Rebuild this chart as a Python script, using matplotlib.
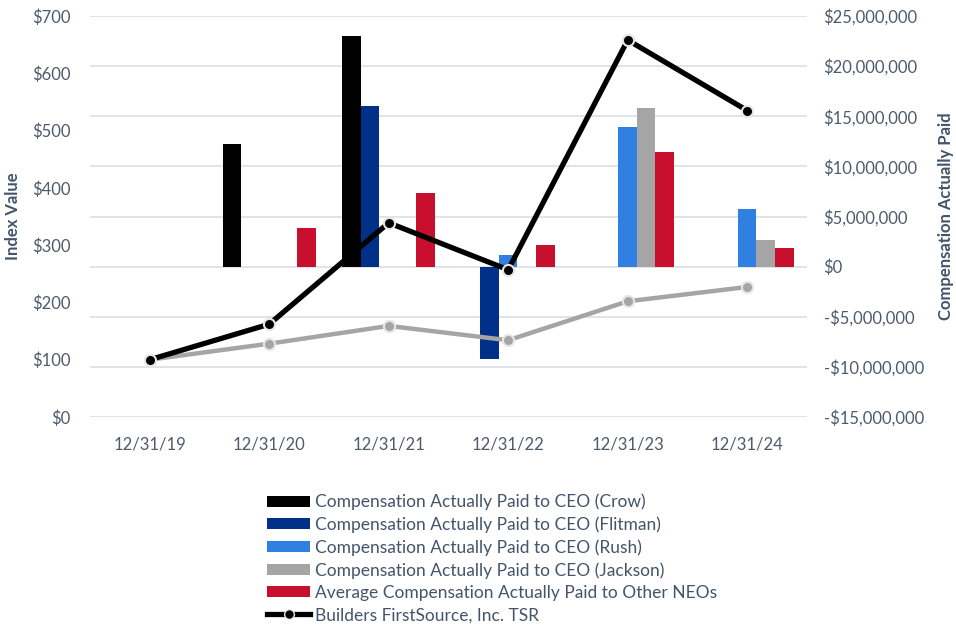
import numpy as np
import matplotlib.pyplot as plt
from matplotlib.lines import Line2D
from matplotlib.patches import Patch
from matplotlib.ticker import FuncFormatter

plt.rcParams['font.family'] = ['Lato', 'DejaVu Sans']

years = ['12/31/19', '12/31/20', '12/31/21', '12/31/22', '12/31/23', '12/31/24']

# index values (left axis)
tsr = [100, 162, 339, 257, 658, 535]
peer = [100, 128, 159, 134, 202, 227]

# compensation actually paid (right axis), NaN = no bar
cap_crow = [np.nan, 12.2e6, 23.0e6, np.nan, np.nan, np.nan]
cap_flitman = [np.nan, np.nan, 16.0e6, -9.2e6, np.nan, np.nan]
cap_rush = [np.nan, np.nan, np.nan, 1.17e6, 13.96e6, 5.75e6]
cap_jackson = [np.nan, np.nan, np.nan, np.nan, 15.8e6, 2.66e6]
cap_neos = [np.nan, 3.83e6, 7.35e6, 2.16e6, 11.4e6, 1.86e6]

bar_series = [
    ('Compensation Actually Paid to CEO (Crow)', cap_crow, '#000000'),
    ('Compensation Actually Paid to CEO (Flitman)', cap_flitman, '#003087'),
    ('Compensation Actually Paid to CEO (Rush)', cap_rush, '#2F80E0'),
    ('Compensation Actually Paid to CEO (Jackson)', cap_jackson, '#A5A5A5'),
    ('Average Compensation Actually Paid to Other NEOs', cap_neos, '#C8102E'),
]

text_col = '#44546A'
tick_col = '#4F5B6B'

fig = plt.figure(figsize=(9.56, 6.28), dpi=100)
ax2 = fig.add_axes([0.0941, 0.336, 0.750, 0.6385])   # bars, right axis
ax1 = ax2.twinx()                                    # lines, left axis
ax1.yaxis.tick_left()
ax1.yaxis.set_label_position('left')
ax2.yaxis.tick_right()
ax2.yaxis.set_label_position('right')
ax1.set_zorder(ax2.get_zorder() + 1)
ax1.patch.set_visible(False)

x = np.arange(len(years))
slot = 0.155
handles = []
for k, (name, vals, col) in enumerate(bar_series):
    ax2.bar(x + (k - 2) * slot, vals, width=slot, color=col, zorder=3)
    handles.append(Patch(facecolor=col, label=name))

ax2.set_ylim(-15e6, 25e6)
ax2.set_yticks(np.arange(-15e6, 25e6 + 1, 5e6))
ax2.yaxis.set_major_formatter(FuncFormatter(
    lambda v, p: ('-' if v < 0 else '') + '${:,.0f}'.format(abs(v))))
ax2.grid(axis='y', color='#DDE2E8', linewidth=1.3, zorder=0)
ax2.set_axisbelow(True)
ax2.set_xlim(-0.5, 5.5)
ax2.set_xticks(x)
ax2.set_xticklabels(years)

ax1.plot(x, peer, color='#A5A5A5', linewidth=3.2, marker='o', markersize=8,
         markerfacecolor='#A5A5A5', markeredgecolor='#E6E6E6', markeredgewidth=1.5,
         zorder=4)
ax1.plot(x, tsr, color='#000000', linewidth=3.8, marker='o', markersize=8,
         markerfacecolor='#000000', markeredgecolor='#E6E6E6', markeredgewidth=1.5,
         zorder=5)
ax1.set_ylim(0, 700)
ax1.set_yticks(np.arange(0, 701, 100))
ax1.yaxis.set_major_formatter(FuncFormatter(lambda v, p: '${:,.0f}'.format(v)))

for a in (ax1, ax2):
    for s in a.spines.values():
        s.set_visible(False)
    a.tick_params(length=0, labelsize=12, colors=tick_col)
ax2.tick_params(axis='x', pad=14)
ax1.tick_params(axis='y', pad=14)
ax2.tick_params(axis='y', pad=12)

ax1.set_ylabel('Index Value', fontsize=12, fontweight='bold', color=text_col, labelpad=8)
ax2.set_ylabel('Compensation Actually Paid', fontsize=12, fontweight='bold',
               color=text_col, labelpad=10)

handles.append(Line2D([0], [0], color='#000000', linewidth=3.8, marker='o', markersize=7,
                      markerfacecolor='#000000', markeredgecolor='#E6E6E6',
                      label='Builders FirstSource, Inc. TSR'))
leg = fig.legend(handles=handles, loc='upper left', bbox_to_anchor=(0.272, 0.225),
                 frameon=False, fontsize=12.5, handlelength=2.5, handleheight=0.6,
                 handletextpad=0.25, labelspacing=0.36, borderaxespad=0)
for t in leg.get_texts():
    t.set_color(text_col)

fig.savefig('out.png', dpi=100, facecolor='white')
